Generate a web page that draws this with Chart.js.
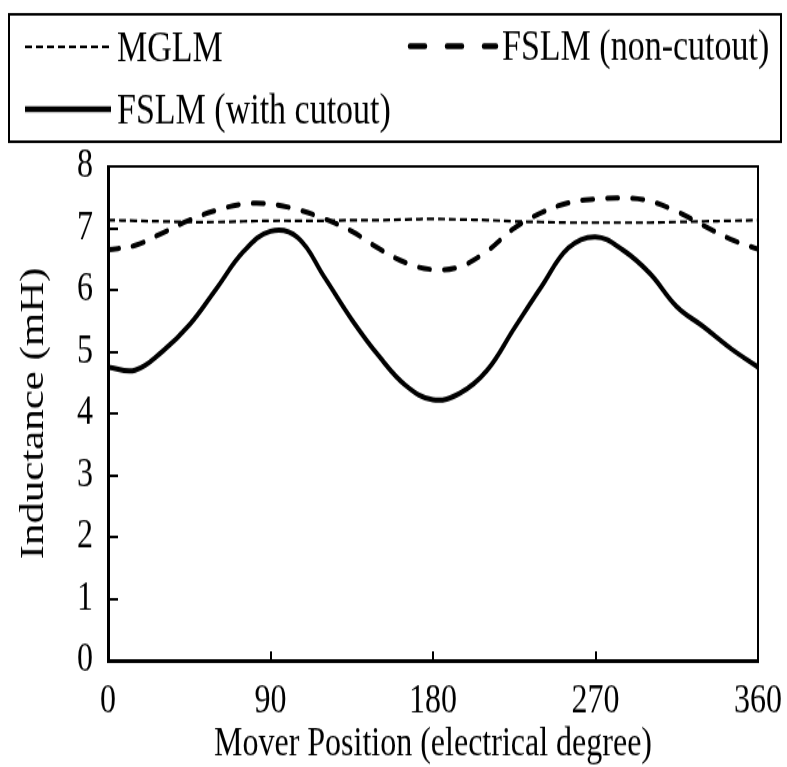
<!DOCTYPE html>
<html lang="en">
<head>
    <meta charset="UTF-8" />
    <title>Inductance vs mover position</title>
    <script src="https://cdn.jsdelivr.net/npm/chart.js@4.4.1/dist/chart.umd.min.js"></script>
    <style>
        body { margin: 0; background: #fff; overflow: hidden; }
        #wrap { width: 787px; height: 767px; }
        /* the source figure is stretched vertically, so draw short and scale up */
        #myChart { transform: scale(1, 1.3); transform-origin: 0 0; }
    </style>
</head>
<body>
<div id="wrap"><canvas id="myChart" width="787" height="590"></canvas></div>

<script>
    // mover position in electrical degrees
    const positions = [0, 15, 30, 45, 60, 75, 90, 105, 120, 135, 150, 165, 180,
        195, 210, 225, 240, 255, 270, 285, 300, 315, 330, 345, 360];

    // inductance (mH)
    const mglm = [7.13, 7.12, 7.11, 7.10, 7.10, 7.11, 7.12, 7.12, 7.12, 7.13, 7.13, 7.14, 7.15,
        7.14, 7.13, 7.11, 7.10, 7.09, 7.09, 7.09, 7.09, 7.10, 7.11, 7.12, 7.13];
    const fslmNonCutout = [6.65, 6.72, 6.92, 7.13, 7.29, 7.39, 7.39, 7.30, 7.15, 6.95, 6.67, 6.44, 6.33,
        6.38, 6.63, 7.00, 7.25, 7.41, 7.47, 7.49, 7.44, 7.27, 7.04, 6.82, 6.66];
    const fslmCutout = [4.75, 4.70, 5.00, 5.43, 6.02, 6.62, 6.95, 6.85, 6.20, 5.52, 4.93, 4.45, 4.22,
        4.33, 4.70, 5.38, 6.05, 6.68, 6.86, 6.65, 6.27, 5.73, 5.40, 5.05, 4.75];

    const seriesNames = ["MGLM", "FSLM (non-cutout)", "FSLM (with cutout)"];
    const xTitle = "Mover Position (electrical degree)";
    const yTitle = "Inductance (mH)";

    const serif = "'Liberation Serif', 'Times New Roman', serif";
    const toPoints = (vals) => vals.map((v, i) => ({ x: positions[i], y: v }));

    // boxed legend laid out like the excel one (two columns)
    const boxLegend = {
        id: "boxLegend",
        afterDraw(chart) {
            const ctx = chart.ctx;
            ctx.save();
            ctx.strokeStyle = "#000";
            ctx.lineWidth = 2;
            ctx.strokeRect(9, 11, 772, 98);
            const slots = [[25, 36], [410, 35.5], [25, 84]];
            ctx.font = "34px " + serif;
            ctx.fillStyle = "#000";
            ctx.textBaseline = "middle";
            chart.data.datasets.forEach((ds, i) => {
                const [x, y] = slots[i];
                ctx.beginPath();
                ctx.setLineDash(ds.legendDash || []);
                ctx.lineWidth = ds.legendWidth || ds.borderWidth;
                ctx.lineCap = ds.borderCapStyle || "butt";
                ctx.moveTo(x, y);
                ctx.lineTo(x + 86, y);
                ctx.stroke();
                ctx.setLineDash([]);
                ctx.fillText(ds.label, x + 92, y + 2);
            });
            ctx.restore();
        },
    };

    // top and right edges of the plot box
    const plotFrame = {
        id: "plotFrame",
        beforeDatasetsDraw(chart) {
            const { ctx, chartArea: a } = chart;
            ctx.save();
            ctx.strokeStyle = "#000";
            ctx.lineWidth = 2;
            ctx.strokeRect(a.left, a.top, a.right - a.left, a.bottom - a.top);
            ctx.restore();
        },
    };

    new Chart(document.getElementById("myChart"), {
        type: "line",
        data: {
            datasets: [
                {
                    label: seriesNames[0],
                    data: toPoints(mglm),
                    borderColor: "#000",
                    borderWidth: 2.2,
                    borderDash: [7, 4],
                    legendDash: [7, 4],
                    pointRadius: 0,
                    tension: 0.4,
                },
                {
                    label: seriesNames[1],
                    data: toPoints(fslmNonCutout),
                    borderColor: "#000",
                    borderWidth: 4,
                    borderDash: [11, 14],
                    borderCapStyle: "round",
                    legendDash: [15, 22],
                    legendWidth: 4.5,
                    pointRadius: 0,
                    tension: 0.4,
                },
                {
                    label: seriesNames[2],
                    data: toPoints(fslmCutout),
                    borderColor: "#000",
                    borderWidth: 4,
                    legendWidth: 4.5,
                    pointRadius: 0,
                    tension: 0.4,
                },
            ],
        },
        options: {
            responsive: false,
            animation: false,
            layout: { padding: { top: 128, left: 0, right: 29, bottom: 0 } },
            plugins: {
                legend: { display: false },
                tooltip: { enabled: false },
            },
            scales: {
                x: {
                    type: "linear",
                    min: 0,
                    max: 360,
                    ticks: {
                        stepSize: 90,
                        color: "#000",
                        font: { family: serif, size: 32 },
                        padding: 19,
                        maxRotation: 0,
                    },
                    grid: { drawOnChartArea: false, tickLength: -7, color: "#000", lineWidth: 2 },
                    border: { color: "#000", width: 3 },
                    title: {
                        display: true,
                        text: xTitle,
                        color: "#000",
                        font: { family: serif, size: 32, lineHeight: 1 },
                        padding: { top: 0, bottom: 1 },
                    },
                    afterFit(scale) {
                        scale.height = 82;
                        scale.paddingLeft = 0;
                        scale.paddingRight = 0;
                    },
                },
                y: {
                    min: 0,
                    max: 8,
                    ticks: {
                        stepSize: 1,
                        color: "#000",
                        font: { family: serif, size: 32 },
                        padding: 25,
                    },
                    grid: { drawOnChartArea: false, tickLength: -10, color: "#000", lineWidth: 2 },
                    border: { color: "#000", width: 3 },
                    title: {
                        display: true,
                        text: yTitle,
                        color: "#000",
                        font: { family: serif, size: 33 },
                        padding: { top: 15, bottom: 0 },
                    },
                    afterFit(scale) { scale.width = 108; },
                },
            },
        },
        plugins: [plotFrame, boxLegend],
    });
</script>
</body>
</html>
